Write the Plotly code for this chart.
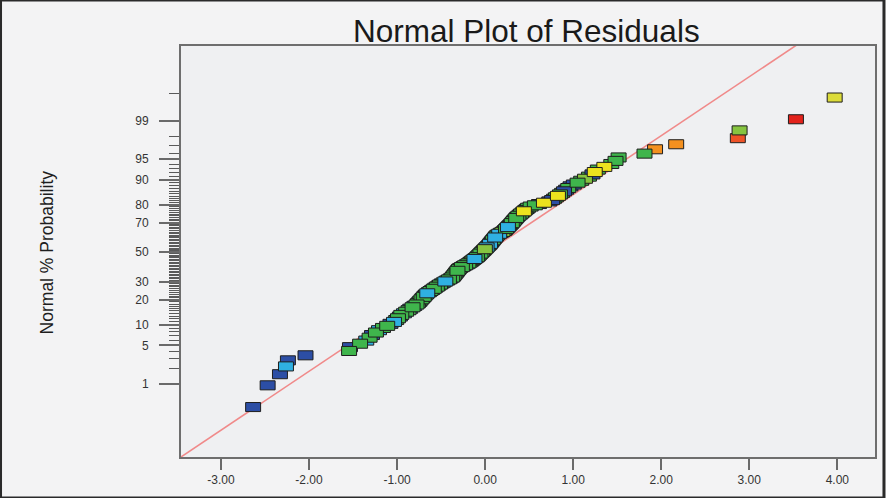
from statistics import NormalDist
import plotly.graph_objects as go

# Externally studentized residuals, sorted ascending
residuals = [
    -2.635, -2.470, -2.330, -2.262, -2.240, -2.040, -1.545, -1.535, -1.420, -1.350,
    -1.312, -1.285, -1.240, -1.205, -1.160, -1.112, -1.075, -1.035, -1.010, -0.990,
    -0.968, -0.952, -0.922, -0.897, -0.870, -0.850, -0.824, -0.803, -0.779, -0.763,
    -0.748, -0.736, -0.722, -0.710, -0.697, -0.686, -0.672, -0.657, -0.638, -0.620,
    -0.601, -0.583, -0.566, -0.548, -0.530, -0.512, -0.493, -0.472, -0.452, -0.431,
    -0.411, -0.392, -0.374, -0.364, -0.356, -0.347, -0.339, -0.330, -0.322, -0.314,
    -0.305, -0.297, -0.283, -0.264, -0.245, -0.227, -0.208, -0.190, -0.175, -0.161,
    -0.148, -0.134, -0.121, -0.107, -0.093, -0.083, -0.073, -0.063, -0.053, -0.043,
    -0.033, -0.022, -0.013, -0.003, 0.008, 0.017, 0.027, 0.038, 0.048, 0.056,
    0.064, 0.072, 0.080, 0.088, 0.097, 0.105, 0.114, 0.122, 0.130, 0.142,
    0.160, 0.178, 0.197, 0.216, 0.226, 0.237, 0.248, 0.259, 0.270, 0.281,
    0.293, 0.303, 0.313, 0.322, 0.332, 0.343, 0.353, 0.364, 0.378, 0.394,
    0.408, 0.425, 0.440, 0.456, 0.472, 0.488, 0.517, 0.565, 0.612, 0.668,
    0.729, 0.761, 0.783, 0.804, 0.827, 0.850, 0.874, 0.896, 0.920, 0.944,
    0.970, 1.007, 1.050, 1.091, 1.134, 1.179, 1.219, 1.245, 1.280, 1.354,
    1.433, 1.481, 1.516, 1.810, 1.930, 2.170, 2.870, 2.890, 3.530, 3.970,
]

# Colour group of each run (same order as residuals)
run_group = [
    "B", "B", "B", "C", "B", "B", "G", "B", "G", "C",
    "G", "B", "G", "C", "G", "G", "B", "C", "G", "G",
    "B", "G", "C", "G", "G", "B", "G", "C", "G", "G",
    "B", "G", "G", "C", "G", "B", "G", "C", "G", "G",
    "B", "G", "C", "G", "L", "G", "B", "G", "C", "G",
    "G", "B", "G", "L", "G", "C", "G", "B", "G", "G",
    "C", "G", "L", "G", "B", "G", "C", "G", "G", "B",
    "L", "G", "C", "G", "G", "B", "G", "L", "G", "C",
    "G", "B", "G", "L", "G", "C", "G", "B", "G", "C",
    "G", "B", "C", "G", "L", "G", "C", "B", "G", "G",
    "C", "G", "L", "G", "B", "G", "G", "C", "G", "B",
    "G", "G", "L", "G", "C", "G", "G", "B", "G", "C",
    "G", "G", "Y", "G", "B", "G", "G", "G", "B", "Y",
    "B", "B", "G", "G", "Y", "G", "G", "B", "B", "G",
    "B", "B", "G", "G", "L", "G", "B", "Y", "G", "Y",
    "G", "G", "G", "G", "O", "O", "RO", "L", "R", "YO",
]

# Labelled probability ticks (%) and the unlabelled graduations between them
prob_ticks = [1, 5, 10, 20, 30, 50, 70, 80, 90, 95, 99]
prob_minor = [p for p in range(2, 99) if p not in prob_ticks] + [99.75]

# Reference line: normal score = slope * residual + intercept
line_slope = 1.041
line_intercept = -0.021
line_resid = [-3.6, 3.6]

x_ticks = [-3, -2, -1, 0, 1, 2, 3, 4]

group_colors = {
    "B": "#2c4ea5",
    "C": "#2fb0e2",
    "G": "#3fb54c",
    "L": "#86c440",
    "Y": "#ece21e",
    "YO": "#dcdc3a",
    "O": "#f3901f",
    "RO": "#ee5328",
    "R": "#e3231c",
}


def stack_tier(i):
    """Dark-blue runs of the lower part sit underneath, yellow runs on top."""
    g = run_group[i]
    if g == "Y":
        return 2
    if g == "B" and residuals[i] < 0.5:
        return 0
    return 1


nd = NormalDist()
n = len(residuals)
# Normal scores from plotting positions (i - 0.5) / n
normal_scores = [nd.inv_cdf((i + 0.5) / n) for i in range(n)]
prob_tick_z = [nd.inv_cdf(p / 100.0) for p in prob_ticks]
prob_minor_z = [nd.inv_cdf(p / 100.0) for p in prob_minor]
line_z = [line_slope * r + line_intercept for r in line_resid]

fig = go.Figure()

fig.add_trace(go.Scatter(
    x=line_resid, y=line_z, mode="lines",
    line=dict(color="#f08a8a", width=1.6),
    hoverinfo="skip", showlegend=False,
))

fig.add_trace(go.Scatter(
    x=residuals, y=normal_scores, mode="markers",
    marker=dict(size=12, symbol="square", opacity=0),
    customdata=[100 * nd.cdf(z) for z in normal_scores],
    hovertemplate="Residual %{x:.3f}<br>%{customdata:.2f}%<extra></extra>",
    showlegend=False,
))

# Each run drawn as a small outlined rectangle in data coordinates;
# the drawing order is interleaved so overlapping runs stay visible.
half_w = 0.085
half_h = 0.08
draw_order = sorted(
    range(n),
    key=lambda i: (stack_tier(i), ((i * 73) + (i * i) % 29) % n),
)
shapes = []
for i in draw_order:
    r, z, g = residuals[i], normal_scores[i], run_group[i]
    shapes.append(dict(
        type="rect", xref="x", yref="y",
        x0=r - half_w, x1=r + half_w, y0=z - half_h, y1=z + half_h,
        fillcolor=group_colors[g],
        line=dict(color="#1e1e1e", width=1),
        layer="above",
    ))

# Outer frame of the whole graphic
L, R, T, B = 181, 9, 46, 41
W, H = 886, 498
pw, ph = W - L - R, H - T - B
shapes.append(dict(
    type="rect", xref="paper", yref="paper",
    x0=-L / pw, x1=(W - L) / pw, y0=-B / ph, y1=(H - B) / ph,
    line=dict(color="#2a2a2a", width=3), fillcolor="rgba(0,0,0,0)",
    layer="above",
))

fig.update_layout(
    width=W, height=H,
    margin=dict(l=L, r=R, t=T, b=B),
    paper_bgcolor="#f3f3f4",
    plot_bgcolor="#eff0f2",
    font=dict(family="Liberation Sans, Arial, sans-serif", color="#333333"),
    shapes=shapes,
    showlegend=False,
    annotations=[
        dict(text="Normal Plot of Residuals", xref="paper", yref="paper",
             x=(527 - L) / pw, y=(H - B - 31) / ph, xanchor="center", yanchor="middle",
             showarrow=False, font=dict(size=31.5, color="#1a1a1a")),
        dict(text="Normal % Probability", xref="paper", yref="paper",
             x=(47 - L) / pw, y=(H - B - 252) / ph, xanchor="center", yanchor="middle",
             textangle=-90, showarrow=False, font=dict(size=17.5, color="#1e1e1e")),
    ],
)

fig.update_xaxes(
    range=[-3.454, 4.428],
    tickvals=x_ticks, ticktext=[f"{v:.2f}" for v in x_ticks],
    ticks="outside", ticklen=11, tickwidth=2, tickcolor="#6a6a6a",
    showgrid=False, zeroline=False,
    showline=True, linecolor="#6e6e6e", linewidth=2, mirror=True,
    tickfont=dict(size=12, color="#333333"),
)

fig.update_yaxes(
    range=[-3.617, 3.645],
    tickvals=prob_tick_z, ticktext=[str(p) for p in prob_ticks],
    ticks="outside", ticklen=20, tickwidth=1.5, tickcolor="#6a6a6a",
    minor=dict(tickmode="array", tickvals=prob_minor_z, ticks="outside",
               ticklen=10, tickwidth=1, tickcolor="#5a5a5a", showgrid=False),
    ticklabelstandoff=8,
    showgrid=False, zeroline=False,
    showline=True, linecolor="#6e6e6e", linewidth=2, mirror=True,
    tickfont=dict(size=12, color="#333333"),
)

fig.write_html("out.html")
